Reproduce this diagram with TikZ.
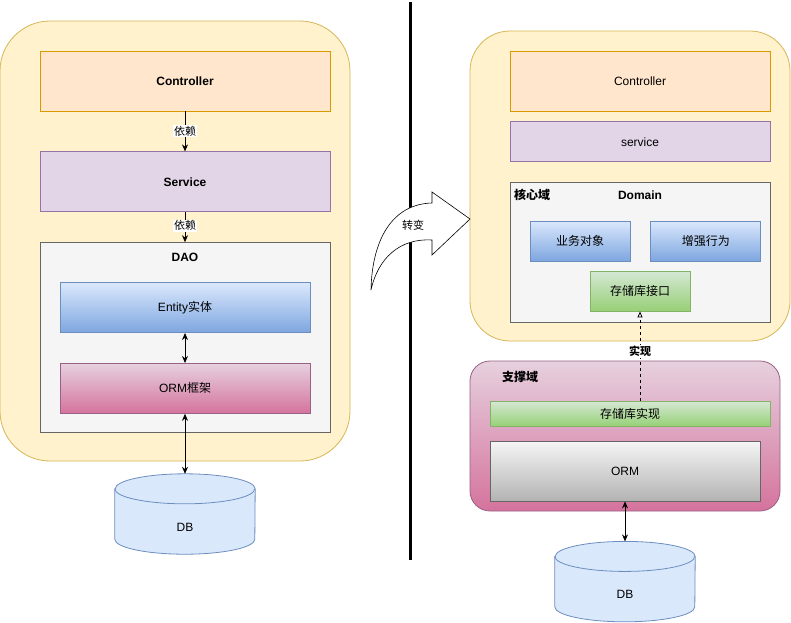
\documentclass[tikz,border=0pt]{standalone}
\usepackage{fontspec}
\setmainfont{Liberation Sans}
\newfontfamily\cjk{Noto Sans CJK SC}
\usepackage{tikz}
\usetikzlibrary{
	positioning,
	arrows.meta,
	shapes.geometric
}

\definecolor{yellowfill}{HTML}{FFF2CC}
\definecolor{yellowdraw}{HTML}{D6B656}
\definecolor{orangefill}{HTML}{FFE6CC}
\definecolor{orangedraw}{HTML}{D79B00}
\definecolor{purplefill}{HTML}{E1D5E7}
\definecolor{purpledraw}{HTML}{9673A6}
\definecolor{greyfill}{HTML}{F5F5F5}
\definecolor{greydraw}{HTML}{666666}
\definecolor{greybot}{HTML}{B3B3B3}
\definecolor{bluetop}{HTML}{DAE8FC}
\definecolor{bluebot}{HTML}{7EA6E0}
\definecolor{bluedraw}{HTML}{6C8EBF}
\definecolor{pinktop}{HTML}{E6D0DE}
\definecolor{pinkbot}{HTML}{D5739D}
\definecolor{pinkdraw}{HTML}{996185}
\definecolor{greentop}{HTML}{D5E8D4}
\definecolor{greenbot}{HTML}{97D077}
\definecolor{greendraw}{HTML}{82B366}

\begin{document}
\begin{tikzpicture}[
			x=1pt,y=-1pt,
			txt/.style={font=\fontsize{12}{14}\selectfont},
			bold/.style={font=\fontsize{12}{14}\selectfont\bfseries},
			block/.style={
				draw,
				line width=0.8pt,
				inner sep=0pt,
				align=center,
				txt
			},
			panel/.style={
				block,
				fill=yellowfill,
				draw=yellowdraw
			},
			ctrl/.style={block,fill=orangefill,draw=orangedraw,minimum width=290pt,minimum height=60pt},
			serv/.style={block,fill=purplefill,draw=purpledraw,minimum width=290pt,minimum height=60pt},
			grey/.style={block,fill=greyfill,draw=greydraw},
			blue/.style={block,top color=bluetop,bottom color=bluebot,draw=bluedraw},
			pink/.style={block,top color=pinktop,bottom color=pinkbot,draw=pinkdraw},
			green/.style={block,top color=greentop,bottom color=greenbot,draw=greendraw},
			dbbox/.style={
				inner sep=0pt,
				minimum width=140pt,
				minimum height=80pt
			},
			dbline/.style={fill=bluetop,draw=bluedraw,line width=0.8pt},
			arrow/.style={-{Stealth[length=7pt,width=6pt]},line width=0.8pt},
			both/.style={{Stealth[length=7pt,width=6pt]}-{Stealth[length=7pt,width=6pt]},line width=0.8pt},
			lbl/.style={fill=white,inner sep=1pt,font=\fontsize{11}{13}\selectfont\cjk}
			]
			\useasboundingbox (0,0) rectangle (791,622);
			
			% left: layered architecture
			\node[panel,rounded corners=50pt,minimum width=350pt,minimum height=440pt] (paneL) at (175,241) {};
			
			\node[ctrl,font=\fontsize{12}{14}\selectfont\bfseries] (ctrlL) at (185,81)
			{Controller};
			
			\node[serv,font=\fontsize{12}{14}\selectfont\bfseries,below=40pt of ctrlL] (servL)
			{Service};
			
			\node[grey,minimum width=290pt,minimum height=190pt,below=30pt of servL] (dao) {};
			\node[bold,below=7pt of dao.north] (daotitle) {DAO};
			
			\node[blue,minimum width=250pt,minimum height=50pt,below=40pt of dao.north] (entity)
			{Entity{\cjk 实体}};
			
			\node[pink,minimum width=250pt,minimum height=50pt,below=30pt of entity] (ormL)
			{ORM{\cjk 框架}};
			
			% right: domain driven
			\node[panel,rounded corners=40pt,minimum width=320pt,minimum height=310pt] (paneR) at (630,186) {};
			
			\node[ctrl,minimum width=260pt] (ctrlR) at (640,81)
			{Controller};
			
			\node[serv,minimum width=260pt,minimum height=40pt,below=10pt of ctrlR] (servR)
			{service};
			
			\node[grey,minimum width=260pt,minimum height=140pt,below=20pt of servR] (domain) {};
			\node[bold] (coretitle) at (532,195) {\cjk 核心域};
			\node[bold] (domtitle) at (640,195) {Domain};
			
			\node[blue,minimum width=100pt,minimum height=40pt] (bizobj) at (580,241)
			{\cjk 业务对象};
			
			\node[blue,minimum width=110pt,minimum height=40pt,right=20pt of bizobj] (enhance)
			{\cjk 增强行为};
			
			\node[green,minimum width=100pt,minimum height=40pt] (repoI) at (640,291)
			{\cjk 存储库接口};
			
			\node[pink,rounded corners=20pt,minimum width=310pt,minimum height=150pt] (support) at (625,436) {};
			\node[bold] (suptitle) at (520,377) {\cjk 支撑域};
			
			\node[green,minimum width=280pt,minimum height=25pt] (repoImpl) at (630,413.5)
			{\cjk 存储库实现};
			
			\node[grey,top color=greyfill,bottom color=greybot,minimum width=270pt,minimum height=60pt] (ormR) at (625,471)
			{ORM};
			
			% databases
			\node[dbbox,below=60pt of ormL] (dbL) {};
			\node[dbbox,below=40pt of ormR] (dbR) {};
			\foreach \db in {dbL,dbR}{
				\draw[dbline] ([yshift=-15pt]\db.north west) -- ([yshift=15pt]\db.south west)
					arc[start angle=180,end angle=0,x radius=70,y radius=15]
					-- ([yshift=-15pt]\db.north east)
					arc[start angle=0,end angle=-180,x radius=70,y radius=15] -- cycle;
				\draw[dbline,fill=none] ([yshift=-15pt]\db.north west)
					arc[start angle=180,end angle=0,x radius=70,y radius=15];
				\node[txt] (\db text) at ([yshift=-13pt]\db.center) {DB};
			}
			
			% connectors
			\draw[arrow] (ctrlL)--(servL) node[lbl,pos=0.5] (dep1) {依赖};
			\draw[arrow] (servL)--(dao) node[lbl,pos=0.45] (dep2) {依赖};
			\draw[both] (entity)--(ormL);
			\draw[both] (ormL)--(dbL);
			\draw[both] (ormR)--(dbR);
			\draw[-{Triangle[open,length=6pt,width=5pt]},dashed,line width=0.8pt] (repoImpl.north -| repoI) -- (repoI.south)
				node[lbl,pos=0.55,font=\fontsize{11}{13}\selectfont\cjk\bfseries] (impl) {实现};
			
			% divider and turn arrow
			\coordinate (divtop) at (410,2);
			\coordinate (divbot) at (410,560);
			\draw[line width=3pt] (divtop)--(divbot);
			
			\draw[fill=white,line width=0.6pt] (371,290) .. controls (372,240) and (392,204) .. (432,203)
				-- (432,192) -- (470,219) -- (432,255) -- (432,240)
				.. controls (400,238) and (378,258) .. (371,290) -- cycle;
			\node[lbl,fill=none] (turn) at (413,225) {转变};
			
		\end{tikzpicture}
\end{document}
